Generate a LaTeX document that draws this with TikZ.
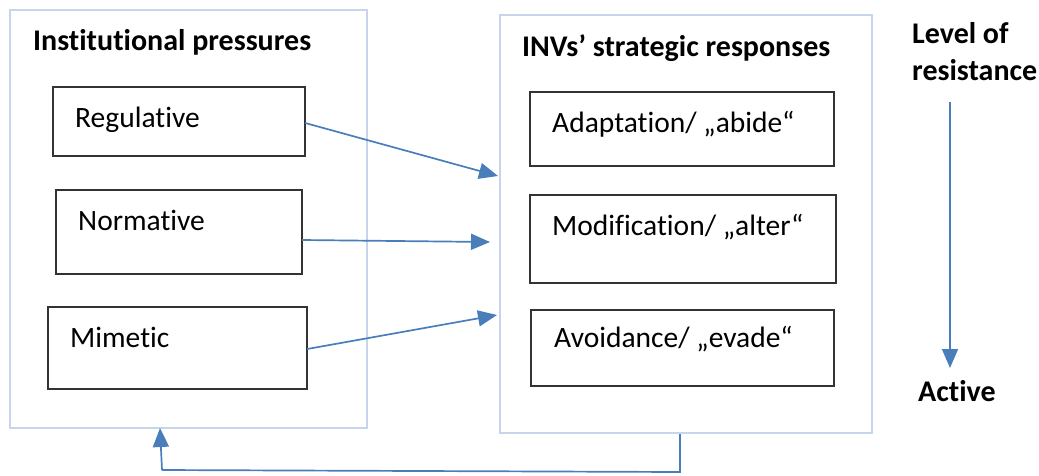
\documentclass[tikz,border=0pt]{standalone}
\usepackage{fontspec}
\setmainfont[Ligatures={NoCommon}]{Carlito}
\usetikzlibrary{arrows.meta}
\definecolor{frameblue}{HTML}{C6D4EC}
\definecolor{arrowblue}{HTML}{4A7EBB}
\tikzset{
  frame/.style={draw=frameblue, line width=1.8pt, fill=none},
  itembox/.style={draw=black!80, line width=1.1pt},
  heading/.style={font=\fontsize{30}{34}\selectfont\bfseries, inner sep=0pt},
  itemtext/.style={font=\fontsize{29.5}{34}\selectfont, inner sep=0pt, anchor=base west},
  flow/.style={draw=arrowblue, line width=1.7pt, -{Triangle[length=19pt,width=16pt]}},
  plainflow/.style={draw=arrowblue, line width=1.7pt},
}
\begin{document}
\begin{tikzpicture}[x=1pt,y=-1pt]
\useasboundingbox (0,0) rectangle (1039,475);
% frames
\draw[frame] (10,10) rectangle (367,428);
\draw[frame] (500,15) rectangle (872,433);
\coordinate (leftbottom) at (160,428);
\coordinate (rightbottom) at (680,434);
% headings
\node[heading, anchor=base west] (hip) at (33,50) {Institutional pressures};
\node[heading, anchor=base west] (hinv) at (522,56) {INVs’ strategic responses};
\node[heading, anchor=base west] (hlev) at (912,43) {Level of};
\node[heading, anchor=base west] (hres) at (912,80) {resistance};
\node[heading, anchor=base west] (hact) at (918,401) {Active};
% left boxes
\path[itembox] (53,87) rectangle (305,156);
\node[inner sep=0pt, minimum width=252pt, minimum height=69pt] (reg) at (179,121.5) {};
\path[itembox] (56,190) rectangle (302,274);
\node[inner sep=0pt, minimum width=246pt, minimum height=84pt] (nor) at (179,232) {};
\path[itembox] (48,307) rectangle (307,389);
\node[inner sep=0pt, minimum width=259pt, minimum height=82pt] (mim) at (177.5,348) {};
\node[itemtext] (treg) at (75,127) {Regulative};
\node[itemtext] (tnor) at (78,230) {Normative};
\node[itemtext] (tmim) at (70,347) {Mimetic};
% right boxes
\path[itembox] (530,92) rectangle (834,166);
\node[inner sep=0pt, minimum width=304pt, minimum height=74pt] (ada) at (682,129) {};
\path[itembox] (530,195) rectangle (836,283);
\node[inner sep=0pt, minimum width=306pt, minimum height=88pt] (mod) at (683,239) {};
\path[itembox] (531,310) rectangle (834,386);
\node[inner sep=0pt, minimum width=303pt, minimum height=76pt] (avo) at (682.5,348) {};
\node[itemtext] (tada) at (552,132) {Adaptation/ „abide“};
\node[itemtext] (tmod) at (552,235) {Modification/ „alter“};
\node[itemtext] (tavo) at (554,347) {Avoidance/ „evade“};
% arrows
\coordinate (in1) at (498,176);
\coordinate (in2) at (490,242);
\coordinate (in3) at (497,315);
\draw[flow] (reg.east |- 0,123) -- (in1);
\draw[flow] (nor.east |- 0,240) -- (in2);
\draw[flow] (mim.east |- 0,349) -- (in3);
\coordinate (levtop) at (950,102);
\coordinate (levbot) at (950,368);
\draw[flow] (levtop) -- (levbot);
% feedback
\coordinate (fb1) at (680,472);
\coordinate (fb2) at (162,470);
\draw[plainflow] (rightbottom) -- (fb1) -- (fb2);
\draw[flow] (fb2) -- (leftbottom);
\end{tikzpicture}
\end{document}
